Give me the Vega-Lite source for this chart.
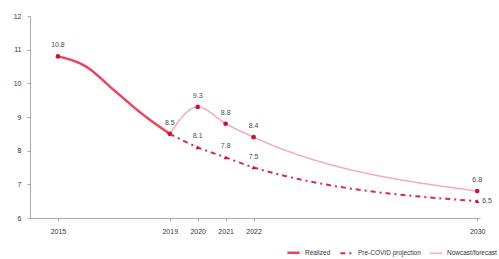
{
  "$schema": "https://vega.github.io/schema/vega-lite/v6.json",
  "width": 450,
  "height": 202,
  "autosize": "none",
  "padding": {"left": 30, "top": 16, "right": 19, "bottom": 41},
  "background": "white",
  "config": {"view": {"stroke": null}, "font": "Liberation Sans"},
  "data": {
    "values": [
      {"year": 2015, "value": 10.8, "series": "Realized", "label": "10.8"},
      {"year": 2016, "value": 10.5, "series": "Realized", "label": null},
      {"year": 2017, "value": 9.8, "series": "Realized", "label": null},
      {"year": 2018, "value": 9.1, "series": "Realized", "label": null},
      {"year": 2019, "value": 8.5, "series": "Realized", "label": "8.5"},
      {"year": 2019, "value": 8.5, "series": "Pre-COVID projection", "label": null},
      {"year": 2020, "value": 8.1, "series": "Pre-COVID projection", "label": "8.1"},
      {"year": 2021, "value": 7.8, "series": "Pre-COVID projection", "label": "7.8"},
      {"year": 2022, "value": 7.5, "series": "Pre-COVID projection", "label": "7.5"},
      {"year": 2030, "value": 6.5, "series": "Pre-COVID projection", "label": "6.5"},
      {"year": 2019, "value": 8.5, "series": "Nowcast/forecast", "label": null},
      {"year": 2020, "value": 9.3, "series": "Nowcast/forecast", "label": "9.3"},
      {"year": 2021, "value": 8.8, "series": "Nowcast/forecast", "label": "8.8"},
      {"year": 2022, "value": 8.4, "series": "Nowcast/forecast", "label": "8.4"},
      {"year": 2030, "value": 6.8, "series": "Nowcast/forecast", "label": "6.8"}
    ]
  },
  "encoding": {
    "x": {
      "field": "year", "type": "quantitative",
      "scale": {"domain": [2014, 2030.1], "nice": false, "zero": false},
      "axis": {
        "title": null, "values": [2015, 2019, 2020, 2021, 2022, 2030], "format": "d",
        "grid": false, "domainColor": "#aaaaaa", "tickColor": "#aaaaaa", "tickSize": 3,
        "labelFontSize": 7, "labelColor": "#333333", "labelPadding": 6
      }
    },
    "y": {
      "field": "value", "type": "quantitative",
      "scale": {"domain": [6, 12], "nice": false, "zero": false},
      "axis": {
        "title": null, "values": [6, 7, 8, 9, 10, 11, 12], "grid": false,
        "domainColor": "#aaaaaa", "tickColor": "#aaaaaa", "tickSize": 3,
        "labelFontSize": 7, "labelColor": "#333333", "labelPadding": 6
      }
    }
  },
  "layer": [
    {
      "mark": {"type": "line", "interpolate": "monotone"},
      "encoding": {
        "color": {
          "field": "series", "type": "nominal",
          "scale": {"domain": ["Realized", "Pre-COVID projection", "Nowcast/forecast"], "range": ["#e6485f", "#d42a50", "#f4aab8"]},
          "legend": {
            "title": null, "orient": "none", "direction": "horizontal", "legendX": 256, "legendY": 229,
            "symbolType": "stroke", "symbolSize": 150, "labelFontSize": 6.5, "labelColor": "#333333",
            "columnPadding": 5, "labelOffset": 4, "symbolStrokeWidth": 2
          }
        },
        "strokeDash": {
          "field": "series", "type": "nominal",
          "scale": {"domain": ["Realized", "Pre-COVID projection", "Nowcast/forecast"], "range": [[1, 0], [5, 4, 2, 4], [1, 0]]},
          "legend": null
        },
        "strokeWidth": {
          "field": "series", "type": "nominal",
          "scale": {"domain": ["Realized", "Pre-COVID projection", "Nowcast/forecast"], "range": [2.5, 1.5, 1]},
          "legend": null
        }
      }
    },
    {
      "transform": [{"filter": "datum.label != null && datum.series != 'Pre-COVID projection'"}],
      "mark": {"type": "point", "filled": true, "color": "#c8143c", "opacity": 1, "size": 22, "shape": "circle"}
    },
    {
      "transform": [{"filter": "datum.label != null && datum.series == 'Pre-COVID projection'"}],
      "mark": {"type": "point", "filled": true, "color": "#c8143c", "opacity": 1, "size": 18, "shape": "triangle-up"}
    },
    {
      "transform": [{"filter": "datum.label != null && !(datum.series == 'Pre-COVID projection' && datum.year == 2030)"}],
      "mark": {"type": "text", "dy": -11, "fontSize": 7, "color": "#3d5248"},
      "encoding": {"text": {"field": "label"}}
    },
    {
      "transform": [{"filter": "datum.series == 'Pre-COVID projection' && datum.year == 2030"}],
      "mark": {"type": "text", "dx": 5, "align": "left", "fontSize": 7, "color": "#3d5248"},
      "encoding": {"text": {"field": "label"}}
    }
  ]
}
